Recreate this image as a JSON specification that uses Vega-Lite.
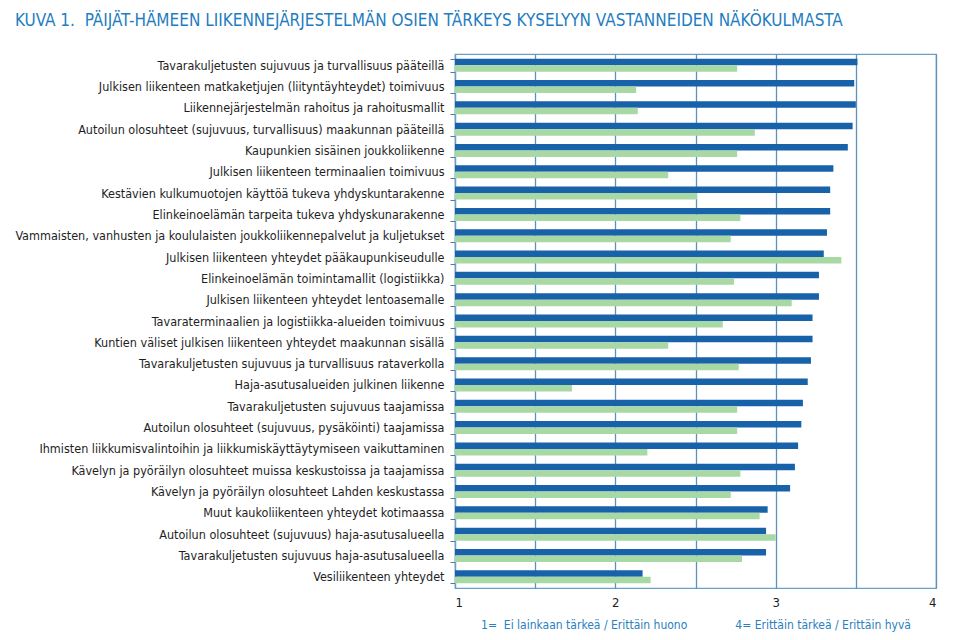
{
  "$schema": "https://vega.github.io/schema/vega-lite/v6.json",
  "autosize": {"type": "fit", "contains": "padding"},
  "width": 960,
  "height": 640,
  "padding": {"left": 14, "top": 12, "right": 24, "bottom": 10},
  "background": "white",
  "title": {
    "text": "KUVA 1.\u00a0\u00a0PÄIJÄT-HÄMEEN LIIKENNEJÄRJESTELMÄN OSIEN TÄRKEYS KYSELYYN VASTANNEIDEN NÄKÖKULMASTA",
    "anchor": "start",
    "frame": "bounds",
    "font": "'Liberation Sans Narrow', 'DejaVu Sans Condensed', sans-serif",
    "fontSize": 17,
    "fontWeight": "normal",
    "color": "#1f7dc0",
    "offset": 18
  },
  "data": {
    "values": [
      {"item": "Tavarakuljetusten sujuvuus ja turvallisuus pääteillä", "series": "Tärkeys", "value": 3.51},
      {"item": "Tavarakuljetusten sujuvuus ja turvallisuus pääteillä", "series": "Nykytila", "value": 2.76},
      {"item": "Julkisen liikenteen matkaketjujen (liityntäyhteydet) toimivuus", "series": "Tärkeys", "value": 3.49},
      {"item": "Julkisen liikenteen matkaketjujen (liityntäyhteydet) toimivuus", "series": "Nykytila", "value": 2.13},
      {"item": "Liikennejärjestelmän rahoitus ja rahoitusmallit", "series": "Tärkeys", "value": 3.50},
      {"item": "Liikennejärjestelmän rahoitus ja rahoitusmallit", "series": "Nykytila", "value": 2.14},
      {"item": "Autoilun olosuhteet (sujuvuus, turvallisuus) maakunnan pääteillä", "series": "Tärkeys", "value": 3.48},
      {"item": "Autoilun olosuhteet (sujuvuus, turvallisuus) maakunnan pääteillä", "series": "Nykytila", "value": 2.87},
      {"item": "Kaupunkien sisäinen joukkoliikenne", "series": "Tärkeys", "value": 3.45},
      {"item": "Kaupunkien sisäinen joukkoliikenne", "series": "Nykytila", "value": 2.76},
      {"item": "Julkisen liikenteen terminaalien toimivuus", "series": "Tärkeys", "value": 3.36},
      {"item": "Julkisen liikenteen terminaalien toimivuus", "series": "Nykytila", "value": 2.33},
      {"item": "Kestävien kulkumuotojen käyttöä tukeva yhdyskuntarakenne", "series": "Tärkeys", "value": 3.34},
      {"item": "Kestävien kulkumuotojen käyttöä tukeva yhdyskuntarakenne", "series": "Nykytila", "value": 2.51},
      {"item": "Elinkeinoelämän tarpeita tukeva yhdyskunarakenne", "series": "Tärkeys", "value": 3.34},
      {"item": "Elinkeinoelämän tarpeita tukeva yhdyskunarakenne", "series": "Nykytila", "value": 2.78},
      {"item": "Vammaisten, vanhusten ja koululaisten joukkoliikennepalvelut ja kuljetukset", "series": "Tärkeys", "value": 3.32},
      {"item": "Vammaisten, vanhusten ja koululaisten joukkoliikennepalvelut ja kuljetukset", "series": "Nykytila", "value": 2.72},
      {"item": "Julkisen liikenteen yhteydet pääkaupunkiseudulle", "series": "Tärkeys", "value": 3.30},
      {"item": "Julkisen liikenteen yhteydet pääkaupunkiseudulle", "series": "Nykytila", "value": 3.41},
      {"item": "Elinkeinoelämän toimintamallit (logistiikka)", "series": "Tärkeys", "value": 3.27},
      {"item": "Elinkeinoelämän toimintamallit (logistiikka)", "series": "Nykytila", "value": 2.74},
      {"item": "Julkisen liikenteen yhteydet lentoasemalle", "series": "Tärkeys", "value": 3.27},
      {"item": "Julkisen liikenteen yhteydet lentoasemalle", "series": "Nykytila", "value": 3.10},
      {"item": "Tavaraterminaalien ja logistiikka-alueiden toimivuus", "series": "Tärkeys", "value": 3.23},
      {"item": "Tavaraterminaalien ja logistiikka-alueiden toimivuus", "series": "Nykytila", "value": 2.67},
      {"item": "Kuntien väliset julkisen liikenteen yhteydet maakunnan sisällä", "series": "Tärkeys", "value": 3.23},
      {"item": "Kuntien väliset julkisen liikenteen yhteydet maakunnan sisällä", "series": "Nykytila", "value": 2.33},
      {"item": "Tavarakuljetusten sujuvuus ja turvallisuus rataverkolla", "series": "Tärkeys", "value": 3.22},
      {"item": "Tavarakuljetusten sujuvuus ja turvallisuus rataverkolla", "series": "Nykytila", "value": 2.77},
      {"item": "Haja-asutusalueiden julkinen liikenne", "series": "Tärkeys", "value": 3.20},
      {"item": "Haja-asutusalueiden julkinen liikenne", "series": "Nykytila", "value": 1.73},
      {"item": "Tavarakuljetusten sujuvuus taajamissa", "series": "Tärkeys", "value": 3.17},
      {"item": "Tavarakuljetusten sujuvuus taajamissa", "series": "Nykytila", "value": 2.76},
      {"item": "Autoilun olosuhteet (sujuvuus, pysäköinti) taajamissa", "series": "Tärkeys", "value": 3.16},
      {"item": "Autoilun olosuhteet (sujuvuus, pysäköinti) taajamissa", "series": "Nykytila", "value": 2.76},
      {"item": "Ihmisten liikkumisvalintoihin ja liikkumiskäyttäytymiseen vaikuttaminen", "series": "Tärkeys", "value": 3.14},
      {"item": "Ihmisten liikkumisvalintoihin ja liikkumiskäyttäytymiseen vaikuttaminen", "series": "Nykytila", "value": 2.20},
      {"item": "Kävelyn ja pyöräilyn olosuhteet muissa keskustoissa ja taajamissa", "series": "Tärkeys", "value": 3.12},
      {"item": "Kävelyn ja pyöräilyn olosuhteet muissa keskustoissa ja taajamissa", "series": "Nykytila", "value": 2.78},
      {"item": "Kävelyn ja pyöräilyn olosuhteet Lahden keskustassa", "series": "Tärkeys", "value": 3.09},
      {"item": "Kävelyn ja pyöräilyn olosuhteet Lahden keskustassa", "series": "Nykytila", "value": 2.72},
      {"item": "Muut kaukoliikenteen yhteydet kotimaassa", "series": "Tärkeys", "value": 2.95},
      {"item": "Muut kaukoliikenteen yhteydet kotimaassa", "series": "Nykytila", "value": 2.90},
      {"item": "Autoilun olosuhteet (sujuvuus) haja-asutusalueella", "series": "Tärkeys", "value": 2.94},
      {"item": "Autoilun olosuhteet (sujuvuus) haja-asutusalueella", "series": "Nykytila", "value": 3.00},
      {"item": "Tavarakuljetusten sujuvuus haja-asutusalueella", "series": "Tärkeys", "value": 2.94},
      {"item": "Tavarakuljetusten sujuvuus haja-asutusalueella", "series": "Nykytila", "value": 2.79},
      {"item": "Vesiliikenteen yhteydet", "series": "Tärkeys", "value": 2.17},
      {"item": "Vesiliikenteen yhteydet", "series": "Nykytila", "value": 2.22}
    ]
  },
  "mark": {"type": "bar", "cornerRadius": 0},
  "encoding": {
    "y": {
      "field": "item",
      "type": "nominal",
      "sort": null,
      "scale": {"paddingInner": 0.39, "paddingOuter": 0.22},
      "axis": {
        "title": null,
        "labelFont": "'Liberation Sans Narrow', 'DejaVu Sans Condensed', sans-serif",
        "labelFontSize": 12.5,
        "labelColor": "#1e1e1e",
        "labelLimit": 600,
        "labelPadding": 6,
        "ticks": true,
        "tickBand": "extent",
        "tickSize": 5,
        "tickColor": "#5a7a90",
        "domain": true,
        "domainColor": "#6a9fc6",
        "domainWidth": 1.2
      }
    },
    "yOffset": {
      "field": "series",
      "type": "nominal",
      "sort": ["Tärkeys", "Nykytila"],
      "scale": {"paddingInner": 0, "paddingOuter": 0}
    },
    "x": {
      "field": "value",
      "type": "quantitative",
      "scale": {"domain": [1, 4], "zero": false, "nice": false},
      "axis": {
        "values": [1, 1.5, 2, 2.5, 3, 3.5, 4],
        "labelExpr": "datum.value % 1 === 0 ? format(datum.value, 'd') : ''",
        "labelFont": "'Liberation Sans Narrow', 'DejaVu Sans Condensed', sans-serif",
        "labelFontSize": 13,
        "labelColor": "#1e1e1e",
        "labelPadding": 8,
        "ticks": false,
        "domain": false,
        "grid": true,
        "gridColor": "#5e92bb",
        "gridWidth": 1.3,
        "gridOpacity": 1,
        "title": "1=\u00a0 Ei lainkaan tärkeä / Erittäin huono\u00a0\u00a0\u00a0\u00a0\u00a0\u00a0\u00a0\u00a0\u00a0\u00a0\u00a0\u00a0\u00a0\u00a04= Erittäin tärkeä / Erittäin hyvä",
        "titleFont": "'Liberation Sans Narrow', 'DejaVu Sans Condensed', sans-serif",
        "titleFontSize": 12,
        "titleFontWeight": "normal",
        "titleColor": "#2a80c0",
        "titlePadding": 10
      }
    },
    "x2": {"datum": 1},
    "color": {
      "field": "series",
      "type": "nominal",
      "scale": {"domain": ["Tärkeys", "Nykytila"], "range": ["#1862aa", "#a8d9a4"]},
      "legend": null
    }
  },
  "config": {
    "view": {"stroke": "#6a9fc6", "strokeWidth": 1.2}
  }
}
